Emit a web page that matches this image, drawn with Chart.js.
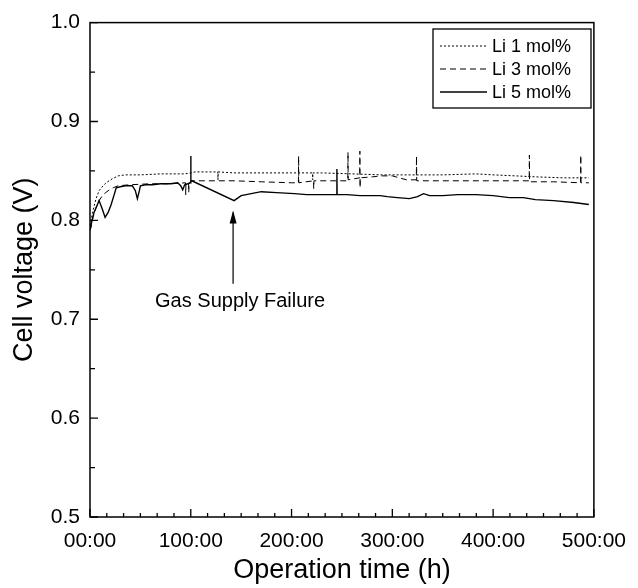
<!DOCTYPE html>
<html>
<head>
<meta charset="utf-8">
<script src="https://cdn.jsdelivr.net/npm/chart.js@4.4.1/dist/chart.umd.min.js"></script>
<style>
  html, body { margin: 0; padding: 0; background: #fff; }
  #wrap { width: 638px; height: 588px; position: relative; }
</style>
</head>
<body>
<div id="wrap"><canvas id="c" width="638" height="588"></canvas></div>
<script>
// ---- data ----
const seriesNames = ['Li 1 mol%', 'Li 3 mol%', 'Li 5 mol%'];
const xTickValues = [0, 100, 200, 300, 400, 500];
const yTickValues = [0.5, 0.6, 0.7, 0.8, 0.9, 1.0];

const li1Time = [0, 3, 6, 9, 13, 16, 22, 28, 35, 50, 70, 94, 100, 104, 120, 126.8, 127, 127.2, 143, 170, 200, 220.8, 221, 221.2, 230, 260, 290, 320, 350, 383, 400, 422, 442, 470, 495];
const li1Volt = [0.795, 0.810, 0.822, 0.830, 0.835, 0.838, 0.842, 0.845, 0.846, 0.846, 0.847, 0.847, 0.848, 0.849, 0.849, 0.849, 0.841, 0.849, 0.848, 0.848, 0.848, 0.848, 0.841, 0.848, 0.848, 0.847, 0.846, 0.846, 0.846, 0.847, 0.846, 0.845, 0.844, 0.843, 0.843];

const li3Time = [0, 1, 3, 6, 9, 13, 18, 23, 28, 40, 60, 80, 94.8, 95, 95.2, 97.8, 98, 98.2, 101, 120, 143, 170, 200, 206.8, 207, 207.2, 221.8, 222, 222.2, 240, 255.8, 256, 256.2, 267.6, 267.8, 268, 268.2, 280, 290, 300, 314, 323.8, 324, 324.2, 340, 380, 420, 435.8, 436, 436.2, 460, 486.8, 487, 487.2, 495];
const li3Volt = [0.790, 0.793, 0.803, 0.813, 0.820, 0.826, 0.830, 0.833, 0.835, 0.836, 0.837, 0.837, 0.838, 0.826, 0.838, 0.838, 0.828, 0.838, 0.840, 0.840, 0.840, 0.839, 0.838, 0.838, 0.865, 0.838, 0.840, 0.832, 0.840, 0.840, 0.840, 0.869, 0.841, 0.843, 0.870, 0.833, 0.843, 0.844, 0.845, 0.845, 0.841, 0.841, 0.865, 0.840, 0.840, 0.840, 0.840, 0.840, 0.866, 0.839, 0.839, 0.838, 0.866, 0.838, 0.838];

const li5Time = [0, 2, 4, 7, 9, 12, 15, 18, 21, 24, 26, 30, 35, 42, 45, 47, 49, 50, 55, 62, 70, 80, 87, 90, 92, 94, 99.8, 100, 100.2, 101, 143, 150, 160, 170, 185, 203, 215, 233, 244.8, 245, 245.2, 255, 268, 280, 288, 295, 305, 317, 325, 331, 337, 350, 365, 383, 400, 416, 430, 442, 460, 480, 495];
const li5Volt = [0.790, 0.800, 0.808, 0.815, 0.820, 0.812, 0.803, 0.808, 0.816, 0.826, 0.833, 0.834, 0.835, 0.835, 0.830, 0.822, 0.830, 0.835, 0.836, 0.836, 0.837, 0.837, 0.838, 0.835, 0.831, 0.836, 0.838, 0.865, 0.840, 0.840, 0.820, 0.825, 0.827, 0.829, 0.828, 0.827, 0.826, 0.826, 0.826, 0.852, 0.826, 0.826, 0.825, 0.825, 0.825, 0.824, 0.823, 0.822, 0.824, 0.827, 0.825, 0.825, 0.826, 0.826, 0.825, 0.823, 0.823, 0.821, 0.820, 0.818, 0.816];

const annotationText = 'Gas Supply Failure';
const annotationTime = 142;
const annotationTip = 0.810;
const annotationTail = 0.736;
const annotationTextY = 0.718;

// ---- build ----
const FONT = "'Liberation Sans', Arial, Helvetica, sans-serif";
function pts(t, v) { return t.map((x, i) => ({ x: x, y: v[i] })); }

const styles = [
  { borderDash: [2, 2], borderWidth: 1 },
  { borderDash: [6, 4], borderWidth: 1 },
  { borderDash: [], borderWidth: 1.4 }
];
const dataSets = [pts(li1Time, li1Volt), pts(li3Time, li3Volt), pts(li5Time, li5Volt)];

const framePlugin = {
  id: 'frame',
  afterDraw(chart) {
    const { ctx, chartArea: a, scales } = chart;
    const xs = scales.x, ys = scales.y;
    ctx.save();
    ctx.strokeStyle = '#000';
    ctx.lineWidth = 1.5;
    ctx.strokeRect(a.left, a.top, a.right - a.left, a.bottom - a.top);
    ctx.lineWidth = 1.3;
    ctx.beginPath();
    for (let i = 0; i <= 30; i++) {
      const v = i * 100 / 6;
      const px = xs.getPixelForValue(v);
      const len = (i % 6 === 0) ? 8 : 4;
      ctx.moveTo(px, a.bottom);
      ctx.lineTo(px, a.bottom - len);
    }
    for (let i = 0; i <= 10; i++) {
      const v = 0.5 + i * 0.05;
      const py = ys.getPixelForValue(v);
      const len = (i % 2 === 0) ? 8 : 5;
      ctx.moveTo(a.left, py);
      ctx.lineTo(a.left + len, py);
    }
    ctx.stroke();

    // annotation arrow + text
    const ax = xs.getPixelForValue(annotationTime);
    const tipY = ys.getPixelForValue(annotationTip);
    const tailY = ys.getPixelForValue(annotationTail);
    ctx.lineWidth = 1.2;
    ctx.beginPath();
    ctx.moveTo(ax, tailY);
    ctx.lineTo(ax, tipY + 2);
    ctx.stroke();
    ctx.fillStyle = '#000';
    ctx.beginPath();
    ctx.moveTo(ax, tipY);
    ctx.lineTo(ax - 3.5, tipY + 13);
    ctx.lineTo(ax + 3.5, tipY + 13);
    ctx.closePath();
    ctx.fill();
    ctx.font = '20px ' + FONT;
    ctx.textAlign = 'center';
    ctx.textBaseline = 'middle';
    ctx.fillText(annotationText, ax + 7, ys.getPixelForValue(annotationTextY));

    // legend box
    const lx = 433, ly = 29, lw = 158, lh = 79;
    ctx.lineWidth = 1.3;
    ctx.strokeRect(lx, ly, lw, lh);
    ctx.font = '18px ' + FONT;
    ctx.textAlign = 'left';
    for (let i = 0; i < 3; i++) {
      const yy = ly + 17 + i * 23;
      ctx.save();
      ctx.lineWidth = styles[i].borderWidth;
      ctx.setLineDash(styles[i].borderDash);
      ctx.beginPath();
      ctx.moveTo(lx + 7, yy);
      ctx.lineTo(lx + 54, yy);
      ctx.stroke();
      ctx.restore();
      ctx.fillText(seriesNames[i], lx + 59, yy + 1);
    }
    ctx.restore();
  }
};

new Chart(document.getElementById('c'), {
  type: 'line',
  data: {
    datasets: dataSets.map((d, i) => ({
      label: seriesNames[i],
      data: d,
      borderColor: '#000',
      borderWidth: styles[i].borderWidth,
      borderDash: styles[i].borderDash,
      pointRadius: 0,
      tension: 0,
      fill: false
    }))
  },
  options: {
    responsive: false,
    animation: false,
    devicePixelRatio: 1,
    layout: { padding: { top: 18, right: 39, left: 0, bottom: 0 } },
    plugins: { legend: { display: false }, tooltip: { enabled: false } },
    scales: {
      x: {
        type: 'linear', min: 0, max: 500,
        afterFit(s) { s.height = 71; },
        afterBuildTicks(s) { s.ticks = xTickValues.map(v => ({ value: v })); },
        grid: { display: false, drawTicks: false },
        border: { display: false },
        ticks: {
          padding: 12, color: '#000', maxRotation: 0,
          font: { family: FONT, size: 21 },
          callback: v => (v === 0 ? '00' : String(v)) + ':00'
        },
        title: { display: true, text: 'Operation time (h)', color: '#000',
                 font: { family: FONT, size: 27 }, padding: { top: 0, bottom: 1 } }
      },
      y: {
        type: 'linear', min: 0.5, max: 1.0,
        afterFit(s) { s.width = 90; },
        afterBuildTicks(s) { s.ticks = yTickValues.map(v => ({ value: v })); },
        grid: { display: false, drawTicks: false },
        border: { display: false },
        ticks: {
          padding: 10, color: '#000',
          font: { family: FONT, size: 21 },
          callback: v => Number(v).toFixed(1)
        },
        title: { display: true, text: 'Cell voltage (V)', color: '#000',
                 font: { family: FONT, size: 27 }, padding: { top: 8, bottom: 0 } }
      }
    }
  },
  plugins: [framePlugin]
});
</script>
</body>
</html>
